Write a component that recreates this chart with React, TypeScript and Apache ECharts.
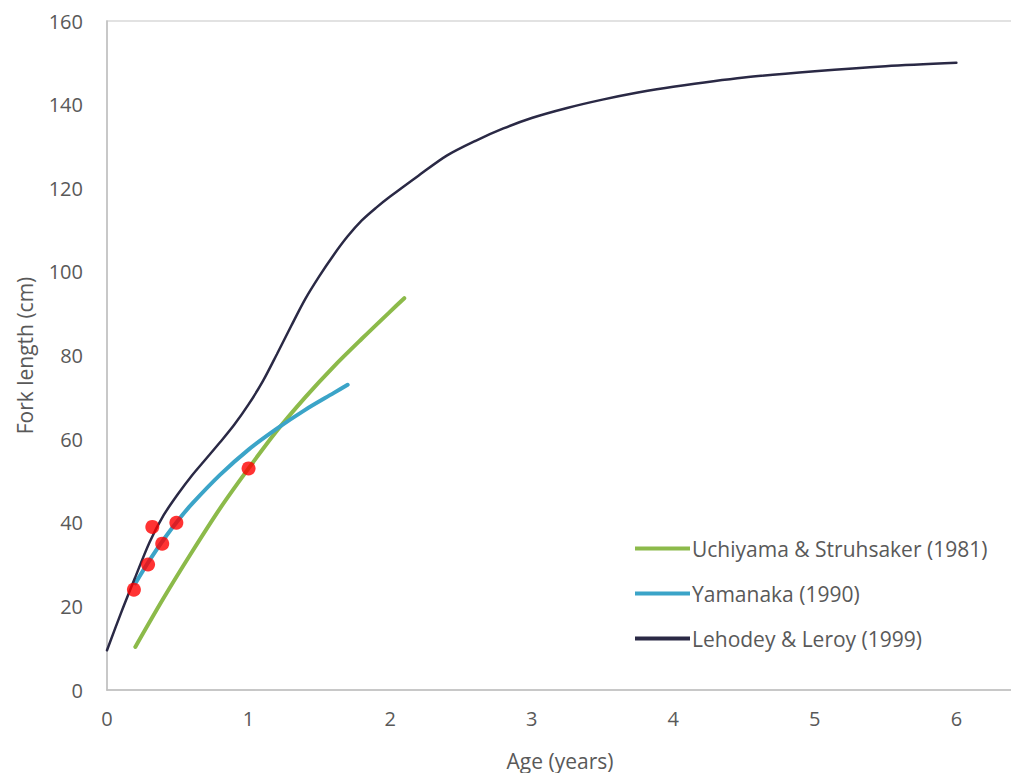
import React, { useEffect, useRef } from "react";
import * as echarts from "echarts";

const uchiyama: [number, number][] = [
  [0.2, 10.3], [0.4, 22], [0.6, 33], [0.8, 43.5], [1.0, 53], [1.2, 62],
  [1.4, 70], [1.6, 77.3], [1.8, 84], [2.0, 90.5], [2.1, 93.7],
];
const yamanaka: [number, number][] = [
  [0.2, 25.5], [0.3, 31], [0.4, 36], [0.5, 40.5], [0.6, 44.5], [0.8, 51.5],
  [1.0, 57.5], [1.2, 62.5], [1.4, 67], [1.6, 71], [1.7, 73],
];
const lehodey: [number, number][] = [
  [0, 9.5], [0.1, 18.5], [0.2, 27], [0.3, 35.3], [0.4, 41.8], [0.5, 46.8], [0.6, 51.3],
  [0.7, 55.3], [0.8, 59.3], [0.9, 63.5], [1.0, 68.3], [1.1, 73.8], [1.2, 80.3],
  [1.3, 87], [1.4, 93.5], [1.5, 99], [1.6, 104], [1.7, 108.5], [1.8, 112.3],
  [1.9, 115.3], [2.0, 118], [2.2, 123], [2.4, 127.8], [2.6, 131.3], [2.8, 134.3],
  [3.0, 136.8], [3.25, 139.2], [3.5, 141.2], [3.75, 142.9], [4.0, 144.3],
  [4.5, 146.5], [5.0, 148], [5.5, 149.2], [6.0, 150],
];
const observed: [number, number][] = [
  [0.19, 24], [0.29, 30], [0.32, 39], [0.39, 35], [0.49, 40], [1.0, 53],
];
const seriesNames = ["Uchiyama & Struhsaker (1981)", "Yamanaka (1990)", "Lehodey & Leroy (1999)"];

const FONT = "'Open Sans', sans-serif";
const TXT = "#595959";

export default function App() {
  const ref = useRef<HTMLDivElement>(null);
  useEffect(() => {
    if (!ref.current) return;
    const chart = echarts.init(ref.current, null, { renderer: "svg" });
    chart.setOption({
      animation: false,
      backgroundColor: "#ffffff",
      grid: {
        left: 107, top: 21, right: -2, bottom: 83,
        outerBoundsMode: "none",
        containLabel: false,
        show: true, borderColor: "#d9d9d9", borderWidth: 1.5,
      },
      legend: {
        data: seriesNames,
        orient: "vertical",
        left: 635,
        top: 538,
        padding: 0,
        icon: "rect",
        itemWidth: 55,
        itemHeight: 4,
        itemGap: 24,
        textStyle: { color: TXT, fontSize: 21, lineHeight: 20, fontFamily: FONT, padding: [0, 0, 0, -3] },
      },
      xAxis: {
        type: "value",
        min: 0, max: 6.4, interval: 1,
        name: "Age (years)",
        nameLocation: "middle",
        nameGap: 60,
        nameTextStyle: { color: TXT, fontSize: 21, fontFamily: FONT },
        axisLine: { show: true, lineStyle: { color: "#bfbfbf", width: 1.5 } },
        axisTick: { show: false },
        splitLine: { show: false },
        axisLabel: { color: TXT, fontSize: 20, fontFamily: FONT, margin: 18, showMaxLabel: false },
      },
      yAxis: {
        type: "value",
        min: 0, max: 160, interval: 20,
        name: "Fork length (cm)",
        nameLocation: "middle",
        nameGap: 72,
        nameRotate: 90,
        nameTextStyle: { color: TXT, fontSize: 21, fontFamily: FONT },
        axisLine: { show: true, lineStyle: { color: "#bfbfbf", width: 1.5 } },
        axisTick: { show: false },
        splitLine: { show: false },
        axisLabel: { color: TXT, fontSize: 20, fontFamily: FONT, margin: 24 },
      },
      series: [
        {
          name: seriesNames[0], type: "line", data: uchiyama, smooth: 0.3,
          symbol: "none", lineStyle: { color: "#8cba4a", width: 4, cap: "round" },
          itemStyle: { color: "#8cba4a" }, z: 2,
        },
        {
          name: seriesNames[1], type: "line", data: yamanaka, smooth: 0.3,
          symbol: "none", lineStyle: { color: "#3ba4c8", width: 4, cap: "round" },
          itemStyle: { color: "#3ba4c8" }, z: 3,
        },
        {
          name: seriesNames[2], type: "line", data: lehodey, smooth: 0.3,
          symbol: "none", lineStyle: { color: "#2a2945", width: 2.5, cap: "round" },
          itemStyle: { color: "#2a2945" }, z: 4,
        },
        {
          name: "Observed", type: "scatter", data: observed, symbolSize: 14,
          itemStyle: { color: "#ff0000" }, z: 5,
        },
      ],
    });
    return () => chart.dispose();
  }, []);
  return (
    <div
      ref={ref}
      style={{ position: "fixed", left: 0, top: 0, width: 1011, height: 773, background: "#fff" }}
    />
  );
}
